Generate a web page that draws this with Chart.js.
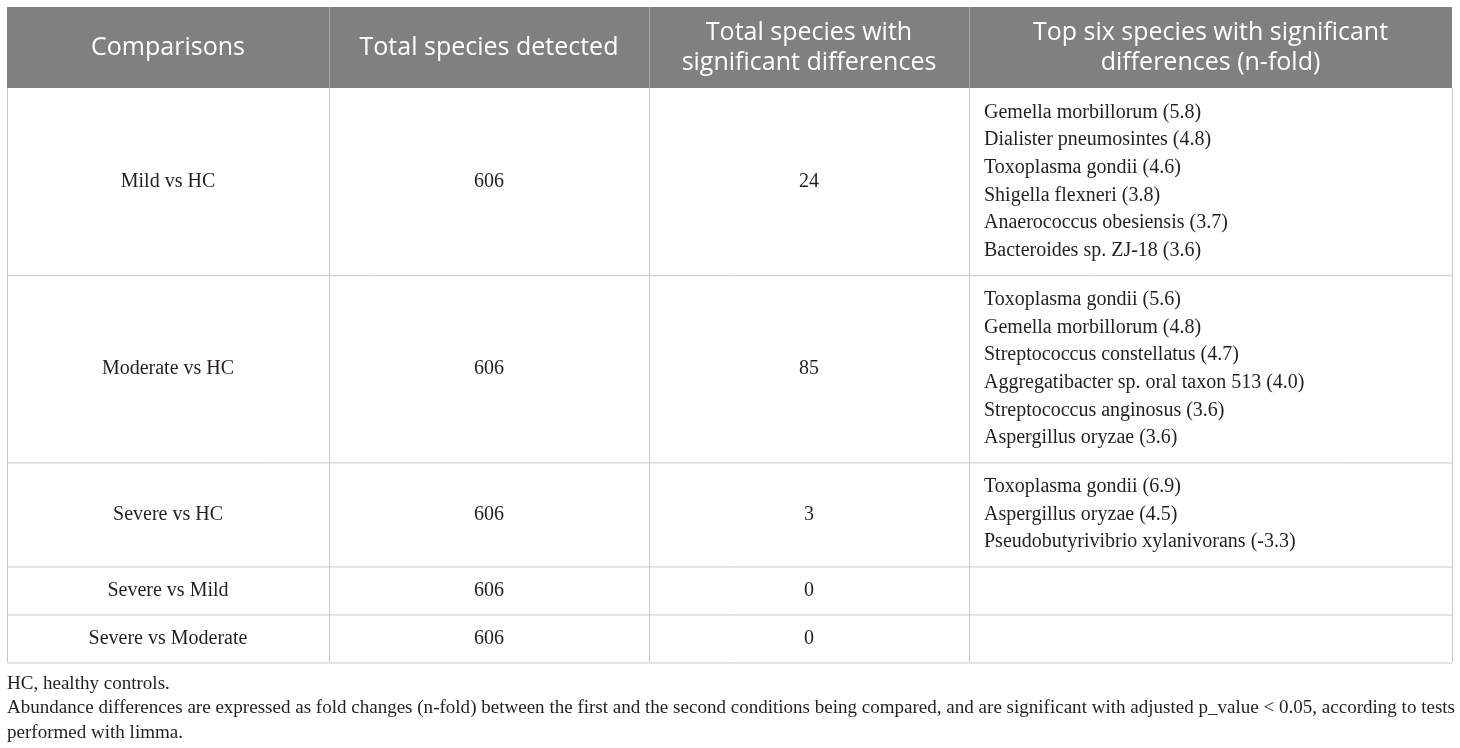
<!DOCTYPE html>
<html>
<head>
<meta charset="utf-8">
<title>Species comparisons</title>
<script src="https://cdn.jsdelivr.net/npm/chart.js@4.4.1/dist/chart.umd.min.js"></script>
<style>
  html, body { margin: 0; padding: 0; background: #ffffff; }
  canvas { display: block; }
</style>
</head>
<body>
<canvas id="table" width="1460" height="748"></canvas>
<script>
// table content
const headers = [
  ['Comparisons'],
  ['Total species detected'],
  ['Total species with', 'significant differences'],
  ['Top six species with significant', 'differences (n-fold)']
];

const comparisons = ['Mild vs HC', 'Moderate vs HC', 'Severe vs HC', 'Severe vs Mild', 'Severe vs Moderate'];
const totalDetected = [606, 606, 606, 606, 606];
const totalSignificant = [24, 85, 3, 0, 0];
const topSpecies = [
  ['Gemella morbillorum (5.8)', 'Dialister pneumosintes (4.8)', 'Toxoplasma gondii (4.6)',
   'Shigella flexneri (3.8)', 'Anaerococcus obesiensis (3.7)', 'Bacteroides sp. ZJ-18 (3.6)'],
  ['Toxoplasma gondii (5.6)', 'Gemella morbillorum (4.8)', 'Streptococcus constellatus (4.7)',
   'Aggregatibacter sp. oral taxon 513 (4.0)', 'Streptococcus anginosus (3.6)', 'Aspergillus oryzae (3.6)'],
  ['Toxoplasma gondii (6.9)', 'Aspergillus oryzae (4.5)', 'Pseudobutyrivibrio xylanivorans (-3.3)'],
  [],
  []
];

const footnotes = [
  'HC, healthy controls.',
  'Abundance differences are expressed as fold changes (n-fold) between the first and the second conditions being compared, and are significant with adjusted p_value < 0.05, according to tests',
  'performed with limma.'
];

// layout
const LEFT = 7;
const TOP = 7;
const colEdges = [7, 329, 649, 969, 1452];
const headerH = 81;
const lineH = 27.7;
const minRowH = 48;
const headFont = '25px "Open Sans", "Noto Sans", sans-serif';
const bodyFont = '20px "Liberation Serif", "DejaVu Serif", serif';
const noteFont = '19.5px "Liberation Serif", "DejaVu Serif", serif';

const tablePlugin = {
  id: 'tablePlugin',
  afterDraw(chart) {
    const ctx = chart.ctx;
    const right = colEdges[colEdges.length - 1];

    // header
    ctx.save();
    ctx.fillStyle = '#7f8180';
    ctx.fillRect(LEFT, TOP, right - LEFT, headerH);

    ctx.strokeStyle = '#a9abaa';
    ctx.lineWidth = 1;
    ctx.beginPath();
    for (let c = 1; c < colEdges.length - 1; ++ c) {
      ctx.moveTo(colEdges[c] + 0.5, TOP);
      ctx.lineTo(colEdges[c] + 0.5, TOP + headerH);
    }
    ctx.stroke();

    ctx.fillStyle = '#ffffff';
    ctx.font = headFont;
    ctx.textAlign = 'center';
    ctx.textBaseline = 'middle';
    headers.forEach((lines, c) => {
      const cx = (colEdges[c] + colEdges[c + 1]) / 2;
      const cy = TOP + headerH / 2;
      lines.forEach((txt, i) => {
        const y = cy + (i - (lines.length - 1) / 2) * 30;
        ctx.fillText(txt, cx, y);
      });
    });

    // body rows
    let y = TOP + headerH;
    const rowTops = [];
    ctx.font = bodyFont;
    ctx.fillStyle = '#231f20';
    comparisons.forEach((name, r) => {
      const species = topSpecies[r];
      const h = Math.max(minRowH, species.length * lineH + 21);
      const cy = y + h / 2;
      rowTops.push(y);

      const cells = [name, String(totalDetected[r]), String(totalSignificant[r])];
      ctx.textAlign = 'center';
      cells.forEach((txt, c) => {
        ctx.fillText(txt, (colEdges[c] + colEdges[c + 1]) / 2, cy);
      });

      ctx.textAlign = 'left';
      species.forEach((txt, i) => {
        ctx.fillText(txt, colEdges[3] + 15, cy + (i - (species.length - 1) / 2) * lineH);
      });
      y += h;
    });
    rowTops.push(y);
    const bottom = y;

    // grid lines
    ctx.strokeStyle = '#c9c9c9';
    ctx.lineWidth = 1;
    ctx.beginPath();
    rowTops.slice(1).forEach(ry => {
      ctx.moveTo(LEFT, ry + 0.5);
      ctx.lineTo(right, ry + 0.5);
    });
    colEdges.forEach(cx => {
      ctx.moveTo(cx + 0.5, TOP + headerH);
      ctx.lineTo(cx + 0.5, bottom);
    });
    ctx.stroke();

    // footnotes: the source font is narrower, so squeeze them all by the
    // same factor that makes the longest line fit the page width
    ctx.font = noteFont;
    ctx.fillStyle = '#231f20';
    ctx.textAlign = 'left';
    ctx.textBaseline = 'alphabetic';
    let widest = 0;
    footnotes.forEach(txt => {
      widest = Math.max(widest, ctx.measureText(txt).width);
    });
    const squeeze = Math.min(1, (1455 - LEFT) / widest);
    footnotes.forEach((txt, i) => {
      ctx.save();
      ctx.translate(LEFT, bottom + 26 + i * 24.5);
      ctx.scale(squeeze, 1);
      ctx.fillText(txt, 0, 0);
      ctx.restore();
    });
    ctx.restore();
  }
};

new Chart(document.getElementById('table'), {
  type: 'bar',
  data: {
    labels: comparisons,
    datasets: [{ data: [], label: 'table' }]
  },
  options: {
    responsive: false,
    animation: false,
    events: [],
    layout: { padding: 0 },
    plugins: {
      legend: { display: false },
      tooltip: { enabled: false }
    },
    scales: {
      x: { display: false },
      y: { display: false }
    }
  },
  plugins: [tablePlugin]
});
</script>
</body>
</html>
